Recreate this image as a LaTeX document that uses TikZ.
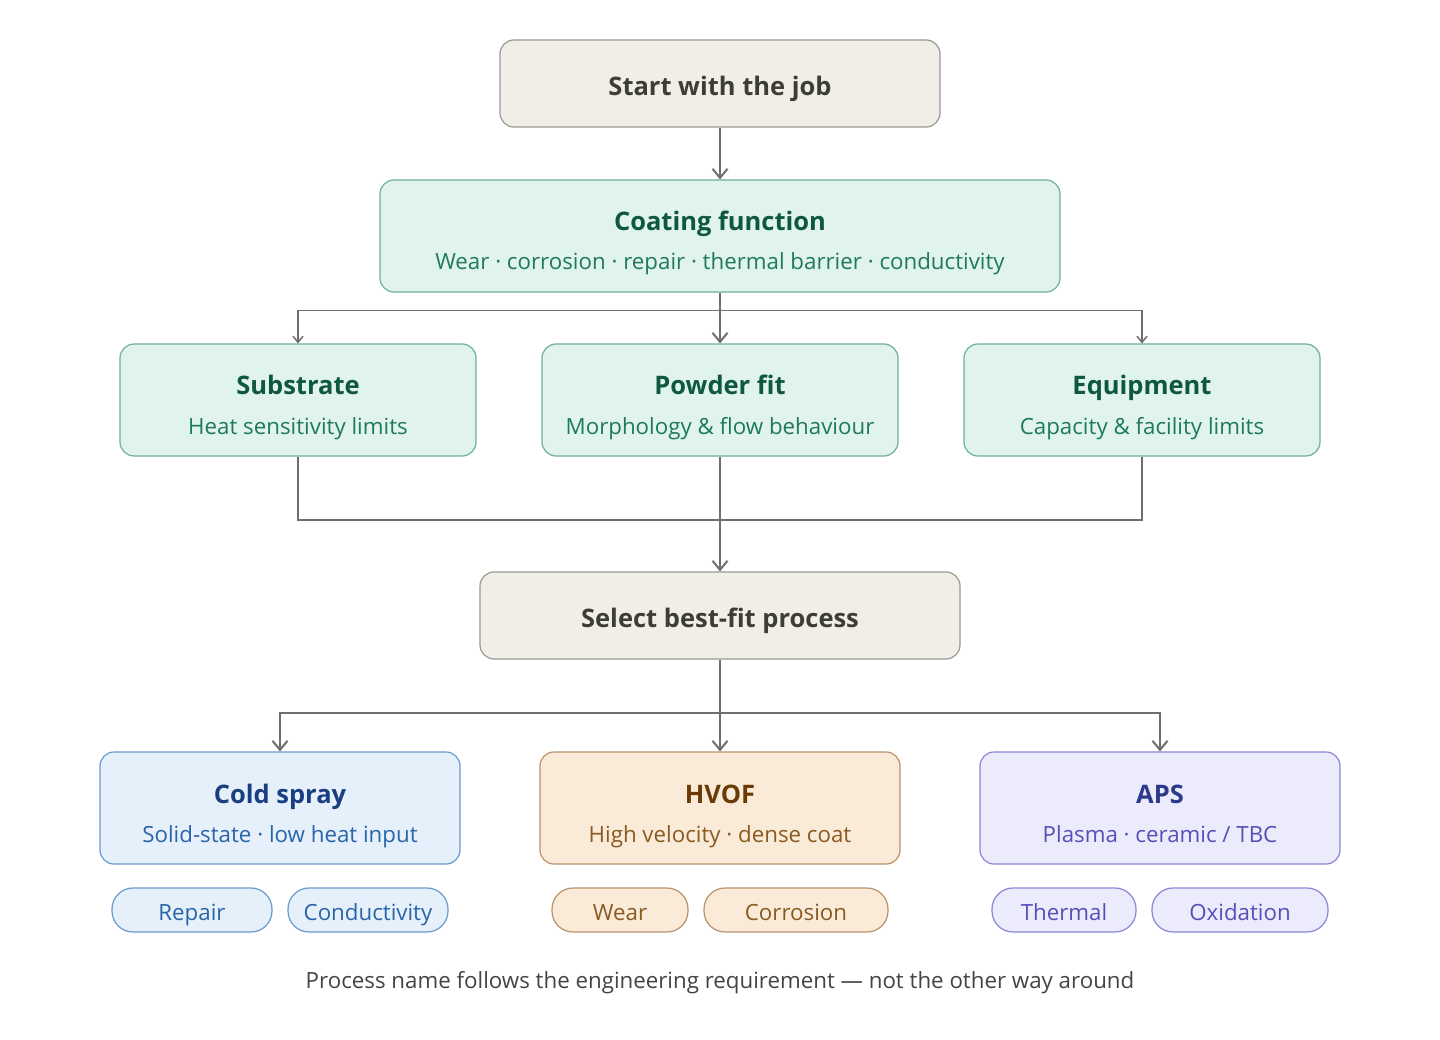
\documentclass[tikz,border=0pt]{standalone}
\usepackage{fontspec}
\setmainfont{Open Sans}
\usetikzlibrary{arrows.meta}
\definecolor{neutralfill}{HTML}{F1EEE8}
\definecolor{neutraldraw}{HTML}{9A9893}
\definecolor{neutraltext}{HTML}{3D3D38}
\definecolor{greenfill}{HTML}{E0F3EC}
\definecolor{greendraw}{HTML}{6FB09A}
\definecolor{greentitle}{HTML}{0F5840}
\definecolor{greensub}{HTML}{1E7A5A}
\definecolor{bluefill}{HTML}{E5F0FB}
\definecolor{bluedraw}{HTML}{6A9ACD}
\definecolor{bluetitle}{HTML}{1A3F80}
\definecolor{bluesub}{HTML}{2A64A8}
\definecolor{orfill}{HTML}{FAEBD8}
\definecolor{ordraw}{HTML}{B8926A}
\definecolor{ortitle}{HTML}{6B3A05}
\definecolor{orsub}{HTML}{8A5A20}
\definecolor{pufill}{HTML}{ECEBFB}
\definecolor{pudraw}{HTML}{8A85D6}
\definecolor{putitle}{HTML}{2D3A8C}
\definecolor{pusub}{HTML}{5550B8}
\definecolor{linecol}{HTML}{6E6E6A}
\definecolor{foot}{HTML}{444444}
\tikzset{
  box/.style={draw, line width=1.2pt, rounded corners=14pt, inner sep=0pt},
  pill/.style={draw, line width=1.2pt, rounded corners=21pt, inner sep=0pt, minimum height=44pt},
  titletxt/.style={font=\fontsize{25.5}{30}\selectfont\bfseries, inner sep=0pt, anchor=base},
  subtxt/.style={font=\fontsize{22.3}{26}\selectfont, inner sep=0pt, anchor=base},
  pilltxt/.style={font=\fontsize{22.3}{26}\selectfont, inner sep=0pt, anchor=base},
  conn/.style={draw=linecol, line width=2pt},
  thinconn/.style={draw=linecol, line width=1.5pt},
  arr/.style={conn, -{Straight Barb[length=9pt,width=15pt,line width=2pt]}},
  smallarr/.style={thinconn, -{Straight Barb[length=6pt,width=10pt,line width=1.5pt]}},
}
\begin{document}
\begin{tikzpicture}[x=1pt,y=-1pt]
\useasboundingbox (0,0) rectangle (1440,1040);
\fill[white] (0,0) rectangle (1440,1040);

% start
\node[box, fill=neutralfill, draw=neutraldraw, minimum width=440pt, minimum height=87pt] (start) at (720,83.5) {};
\node[titletxt, text=neutraltext] (starttxt) at (720,96) {Start with the job};

% coating function
\node[box, fill=greenfill, draw=greendraw, minimum width=680pt, minimum height=112pt] (coat) at (720,236) {};
\node[titletxt, text=greentitle] (coatt) at (720,231) {Coating function};
\node[subtxt, text=greensub] (coats) at (720,270) {Wear · corrosion · repair · thermal barrier · conductivity};

% three criteria
\node[box, fill=greenfill, draw=greendraw, minimum width=356pt, minimum height=112pt] (sub) at (298,400) {};
\node[titletxt, text=greentitle] (subt) at (298,395) {Substrate};
\node[subtxt, text=greensub] (subs) at (298,434) {Heat sensitivity limits};

\node[box, fill=greenfill, draw=greendraw, minimum width=356pt, minimum height=112pt] (pow) at (720,400) {};
\node[titletxt, text=greentitle] (powt) at (720,395) {Powder fit};
\node[subtxt, text=greensub] (pows) at (720,434) {Morphology \& flow behaviour};

\node[box, fill=greenfill, draw=greendraw, minimum width=356pt, minimum height=112pt] (eq) at (1142,400) {};
\node[titletxt, text=greentitle] (eqt) at (1142,395) {Equipment};
\node[subtxt, text=greensub] (eqs) at (1142,434) {Capacity \& facility limits};

% select
\node[box, fill=neutralfill, draw=neutraldraw, minimum width=480pt, minimum height=87pt] (sel) at (720,615.5) {};
\node[titletxt, text=neutraltext] (seltxt) at (720,627) {Select best-fit process};

% processes
\node[box, fill=bluefill, draw=bluedraw, minimum width=360pt, minimum height=112pt] (cold) at (280,808) {};
\node[titletxt, text=bluetitle] (coldt) at (280,803) {Cold spray};
\node[subtxt, text=bluesub] (colds) at (280,842) {Solid-state · low heat input};

\node[box, fill=orfill, draw=ordraw, minimum width=360pt, minimum height=112pt] (hvof) at (720,808) {};
\node[titletxt, text=ortitle] (hvoft) at (720,803) {HVOF};
\node[subtxt, text=orsub] (hvofs) at (720,842) {High velocity · dense coat};

\node[box, fill=pufill, draw=pudraw, minimum width=360pt, minimum height=112pt] (aps) at (1160,808) {};
\node[titletxt, text=putitle] (apst) at (1160,803) {APS};
\node[subtxt, text=pusub] (apss) at (1160,842) {Plasma · ceramic / TBC};

% pills
\node[pill, fill=bluefill, draw=bluedraw, minimum width=160pt] (p1) at (192,910) {};
\node[pilltxt, text=bluesub] (p1t) at (192,920) {Repair};
\node[pill, fill=bluefill, draw=bluedraw, minimum width=160pt] (p2) at (368,910) {};
\node[pilltxt, text=bluesub] (p2t) at (368,920) {Conductivity};

\node[pill, fill=orfill, draw=ordraw, minimum width=136pt] (p3) at (620,910) {};
\node[pilltxt, text=orsub] (p3t) at (620,920) {Wear};
\node[pill, fill=orfill, draw=ordraw, minimum width=184pt] (p4) at (796,910) {};
\node[pilltxt, text=orsub] (p4t) at (796,920) {Corrosion};

\node[pill, fill=pufill, draw=pudraw, minimum width=144pt] (p5) at (1064,910) {};
\node[pilltxt, text=pusub] (p5t) at (1064,920) {Thermal};
\node[pill, fill=pufill, draw=pudraw, minimum width=176pt] (p6) at (1240,910) {};
\node[pilltxt, text=pusub] (p6t) at (1240,920) {Oxidation};

% footer
\node[font=\fontsize{22.3}{26}\selectfont, text=foot, inner sep=0pt, anchor=base] (footer) at (720,988) {Process name follows the engineering requirement — not the other way around};

% connectors
\draw[arr] (start.south) -- (coat.north);
\draw[thinconn] (coat.south) -- ++(0,18) coordinate (split1);
\draw[smallarr] (split1) -| (sub.north);
\draw[smallarr] (split1) -| (eq.north);
\draw[arr] (coat.south) -- (pow.north);

\coordinate (merge) at (720,520);
\draw[thinconn] (sub.south) |- (merge);
\draw[thinconn] (eq.south) |- (merge);
\draw[thinconn] (pow.south) -- (merge);
\draw[arr] (merge) -- (sel.north);

\draw[thinconn] (sel.south) -- ++(0,53) coordinate (split2);
\draw[arr] (split2) -| (cold.north);
\draw[arr] (split2) -| (aps.north);
\draw[arr] (sel.south) -- (hvof.north);
\end{tikzpicture}
\end{document}
